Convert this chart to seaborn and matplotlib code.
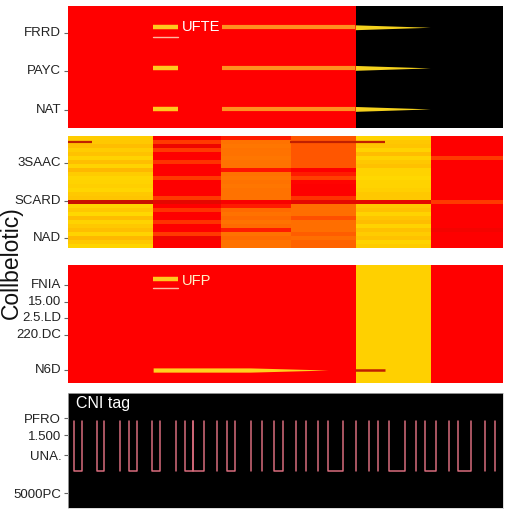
import numpy as np
import pandas as pd
import matplotlib
matplotlib.use("Agg")
import matplotlib.pyplot as plt
import seaborn as sns
from matplotlib.colors import ListedColormap, LinearSegmentedColormap

sns.set_theme(style="white")
plt.rcParams['font.family'] = ['Liberation Sans', 'DejaVu Sans']

# width of each column block (time units) shared by the three strips
block_widths = [34, 27, 28, 26, 30, 29]

# --- panel 1 ---
top_blocks = [0, 0, 0, 0, 1, 1]          # 0 red, 1 black
top_labels = ["FRRD", "PAYC", "NAT"]
top_ticks = [0.66, 1.60, 2.56]
top_rows = [0.52, 1.52, 2.53]
top_short = (34, 44)                      # short yellow dash
top_long = (61.6, 114.8)                  # orange line
top_tail = (114.8, 144.8)                 # yellow fading tail

# --- panel 2 (rows x column blocks, 0 dark red .. 1 yellow) ---
col1 = [0.92, 0.9, 0.84, 0.92, 0.87, 0.95, 0.85, 0.95, 0.82, 0.92, 0.96, 0.95, 0.93, 0.96,
        0.9, 0.88, 0.05, 0.95, 0.9, 0.97, 0.84, 0.95, 0.9, 0.85, 0.95, 0.82, 0.9, 0.96]
col2 = [0.15, 0.3, 0.12, 0.3, 0.15, 0.15, 0.28, 0.15, 0.15, 0.15, 0.3, 0.15, 0.15, 0.15,
        0.15, 0.3, 0.1, 0.15, 0.28, 0.15, 0.15, 0.28, 0.15, 0.15, 0.3, 0.12, 0.15, 0.15]
col3 = [0.22, 0.47, 0.49, 0.47, 0.47, 0.49, 0.47, 0.47, 0.2, 0.47, 0.49, 0.47, 0.49, 0.47,
        0.47, 0.47, 0.14, 0.22, 0.44, 0.47, 0.44, 0.47, 0.44, 0.22, 0.47, 0.44, 0.47, 0.47]
col4 = [0.38, 0.38, 0.38, 0.38, 0.38, 0.38, 0.38, 0.38, 0.15, 0.22, 0.32, 0.16, 0.15, 0.15,
        0.15, 0.28, 0.1, 0.45, 0.45, 0.45, 0.36, 0.45, 0.45, 0.45, 0.4, 0.45, 0.42, 0.42]
col5 = [0.95, 0.9, 0.88, 0.95, 0.84, 0.95, 0.9, 0.86, 0.95, 0.95, 0.97, 0.95, 0.95, 0.93,
        0.9, 0.9, 0.1, 0.9, 0.86, 0.95, 0.88, 0.84, 0.95, 0.86, 0.92, 0.87, 0.95, 0.92]
col6 = [0.15, 0.15, 0.15, 0.15, 0.15, 0.3, 0.15, 0.15, 0.15, 0.15, 0.15, 0.15, 0.15, 0.15,
        0.15, 0.15, 0.3, 0.15, 0.15, 0.15, 0.15, 0.15, 0.15, 0.13, 0.15, 0.15, 0.15, 0.15]
mid_labels = ["3SAAC", "SCARD", "NAD"]
mid_ticks = [6.75, 16.25, 25.5]
mid_streaks = [(0, 9.6, 1.5), (88.8, 126.8, 1.5)]

# --- panel 3 ---
low_blocks = [0, 0, 0, 0, 1, 0]           # 0 red, 1 yellow
low_labels = ["FNIA", "15.00", "2.5.LD", "220.DC", "N6D"]
low_ticks = [0.17, 0.31, 0.45, 0.59, 0.89]
low_short = (34, 44)
low_bar = (34, 72.8, 104)                 # bar start, taper start, end
low_dark = (114.8, 126.8)

# --- panel 4 (pulse train) ---
pulse_u = [(2.4, 5.5), (11.5, 14.5), (24.5, 27.5), (33.7, 36.8), (46.9, 50.1), (50.1, 54.4),
           (63.5, 66.8), (82.5, 85.9), (103.9, 109.9), (128.5, 134.5), (142.5, 147.2),
           (155.9, 161.2)]
pulse_i = [20.8, 43.1, 59.5, 73.1, 77.6, 91.2, 95.2, 99.9, 115.2, 120.5, 123.9, 139.2,
           152.3, 166.5, 170.5]
pulse_labels = ["PFRO", "1.500", "UNA.", "5000PC"]
pulse_ticks = [1.06, 0.72, 0.32, -0.44]


def strip(values, nrows):
    return np.repeat(np.array([values] * nrows, dtype=float), block_widths, axis=1)


def taper(ax, x0, x1, y, hw, color):
    ax.fill_between([x0, x1], [y - hw, y], [y + hw, y], color=color, lw=0, zorder=3)


def style_ticks(ax, ticks, labels):
    ax.set_xticks([])
    ax.set_yticks(ticks)
    ax.set_yticklabels(labels, rotation=0, fontsize=9.5, color="#222222")
    ax.tick_params(axis="y", left=True, length=3, width=0.8, color="#666666", pad=2)


fig = plt.figure(figsize=(5.12, 5.12), dpi=100)
left, width = 0.133, 0.850

# panel 1
ax1 = fig.add_axes([left, 0.750, width, 0.238])
sns.heatmap(strip(top_blocks, 3), cmap=ListedColormap(["#ff0000", "#000000"]),
            vmin=0, vmax=1, cbar=False, ax=ax1)
for y in top_rows:
    ax1.plot(top_short, [y, y], color="#ffc81e", lw=3.2, solid_capstyle="butt", zorder=3)
    ax1.plot(top_long, [y, y], color="#ff9020", lw=3.0, solid_capstyle="butt", zorder=3)
    taper(ax1, top_tail[0], top_tail[1], y, 0.06, "#f5d21e")
ax1.plot(top_short, [top_rows[0] + 0.25] * 2, color="#ffb8a0", lw=1.0, zorder=3)
ax1.text(45.6, top_rows[0], "UFTE", color="white", fontsize=10.5, va="center", ha="left")
style_ticks(ax1, top_ticks, top_labels)

# panel 2
mid_cmap = LinearSegmentedColormap.from_list(
    "heat", [(0, "#b01800"), (0.15, "#ff0000"), (0.3, "#ff3a00"), (0.45, "#ff6e00"),
             (0.8, "#ffb400"), (0.95, "#ffd200"), (1, "#ffe000")])
mid = np.array([col1, col2, col3, col4, col5, col6]).T
ax2 = fig.add_axes([left, 0.5156, width, 0.219])
sns.heatmap(np.repeat(mid, block_widths, axis=1), cmap=mid_cmap, vmin=0, vmax=1,
            cbar=False, ax=ax2)
for x0, x1, y in mid_streaks:
    ax2.plot([x0, x1], [y, y], color="#c02000", lw=1.6, solid_capstyle="butt")
style_ticks(ax2, mid_ticks, mid_labels)

# panel 3
ax3 = fig.add_axes([left, 0.252, width, 0.230])
sns.heatmap(strip(low_blocks, 1), cmap=ListedColormap(["#ff0000", "#ffd000"]),
            vmin=0, vmax=1, cbar=False, ax=ax3)
ax3.plot(low_short, [0.12, 0.12], color="#ffc81e", lw=3.2, solid_capstyle="butt")
ax3.plot(low_short, [0.195, 0.195], color="#ffb8a0", lw=1.0)
ax3.text(45.6, 0.135, "UFP", color="#fff2c8", fontsize=10.5, va="center", ha="left")
ax3.fill_between([low_bar[0], low_bar[1], low_bar[2]], [0.872, 0.872, 0.89],
                 [0.908, 0.908, 0.89], color="#ffd21e", lw=0, zorder=3)
ax3.plot(low_dark, [0.89, 0.89], color="#c02000", lw=1.8, solid_capstyle="butt")
style_ticks(ax3, low_ticks, low_labels)

# panel 4
rows = []
hi, lo = 1.0, 0.0
for k, (a, b) in enumerate(pulse_u):
    for t, v in [(a, hi), (a, lo), (b, lo), (b, hi)]:
        rows.append({"t": t, "level": v, "pulse": f"u{k}"})
for k, a in enumerate(pulse_i):
    for v in (hi, lo):
        rows.append({"t": a, "level": v, "pulse": f"i{k}"})
pulses = pd.DataFrame(rows)

ax4 = fig.add_axes([left, 0.0078, width, 0.2246])
ax4.set_facecolor("black")
sns.lineplot(data=pulses, x="t", y="level", units="pulse", estimator=None, sort=False,
             color="#d86c7c", lw=1.1, ax=ax4)
ax4.set_xlim(0, 174)
ax4.set_ylim(-0.74, 1.56)
ax4.set_xlabel("")
ax4.set_ylabel("")
for s in ax4.spines.values():
    s.set_color("#cccccc")
    s.set_linewidth(0.5)
ax4.text(3, 1.5, "CNI tag", color="white", fontsize=11.5, va="top", ha="left")
style_ticks(ax4, pulse_ticks, pulse_labels)

fig.text(0.022, 0.488, "Collbelotic)", rotation=90, fontsize=16.5, va="center", ha="center",
         color="#111111")

fig.savefig("out.png", dpi=100)
